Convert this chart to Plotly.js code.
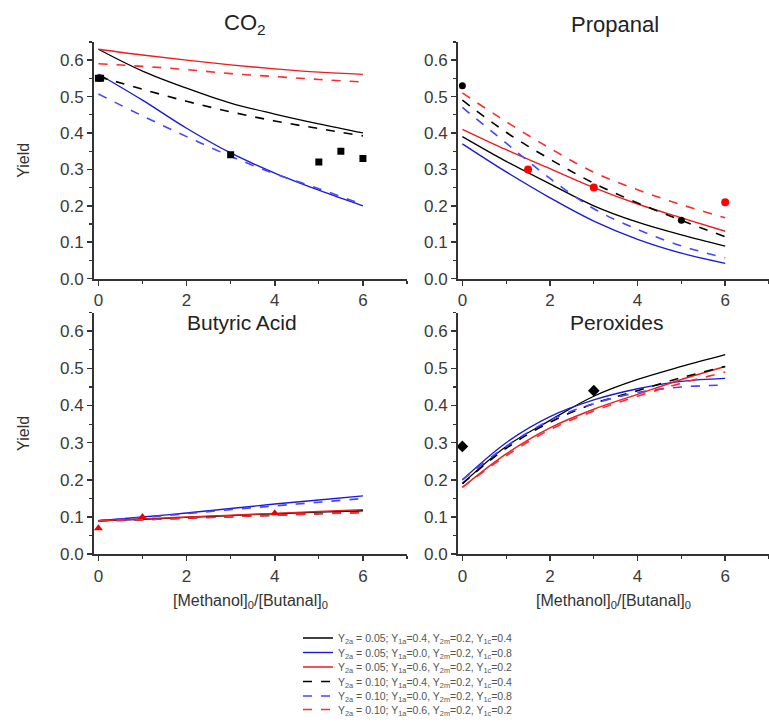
<!DOCTYPE html>
<html>
<head>
<meta charset="utf-8">
<script src="https://cdn.plot.ly/plotly-3.0.1.min.js"></script>
<style>html,body{margin:0;padding:0;background:#fff;}#chart{width:769px;height:724px;}</style>
</head>
<body>
<div id="chart"></div>
<script>
// ---------- data ----------
const xModel = [0, 1, 2, 3, 4, 5, 6];

const seriesNames = [
  'Y<sub>2a</sub> = 0.05; Y<sub>1a</sub>=0.4, Y<sub>2m</sub>=0.2, Y<sub>1c</sub>=0.4',
  'Y<sub>2a</sub> = 0.05; Y<sub>1a</sub>=0.0, Y<sub>2m</sub>=0.2, Y<sub>1c</sub>=0.8',
  'Y<sub>2a</sub> = 0.05; Y<sub>1a</sub>=0.6, Y<sub>2m</sub>=0.2, Y<sub>1c</sub>=0.2',
  'Y<sub>2a</sub> = 0.10; Y<sub>1a</sub>=0.4, Y<sub>2m</sub>=0.2, Y<sub>1c</sub>=0.4',
  'Y<sub>2a</sub> = 0.10; Y<sub>1a</sub>=0.0, Y<sub>2m</sub>=0.2, Y<sub>1c</sub>=0.8',
  'Y<sub>2a</sub> = 0.10; Y<sub>1a</sub>=0.6, Y<sub>2m</sub>=0.2, Y<sub>1c</sub>=0.2'
];

// CO2
const co2Black     = [0.630, 0.570, 0.523, 0.482, 0.452, 0.425, 0.400];
const co2Blue      = [0.562, 0.490, 0.413, 0.345, 0.290, 0.243, 0.200];
const co2Red       = [0.630, 0.614, 0.600, 0.587, 0.576, 0.567, 0.561];
const co2BlackDash = [0.555, 0.520, 0.487, 0.458, 0.433, 0.412, 0.392];
const co2BlueDash  = [0.507, 0.447, 0.390, 0.336, 0.288, 0.247, 0.203];
const co2RedDash   = [0.590, 0.583, 0.574, 0.563, 0.555, 0.547, 0.540];
const co2ExpX = [0, 0.05, 3, 5, 5.5, 6];
const co2ExpY = [0.55, 0.55, 0.34, 0.32, 0.35, 0.33];

// Propanal
const propBlack     = [0.390, 0.322, 0.260, 0.200, 0.155, 0.120, 0.089];
const propBlue      = [0.370, 0.293, 0.222, 0.158, 0.108, 0.070, 0.042];
const propRed       = [0.410, 0.354, 0.302, 0.250, 0.205, 0.167, 0.130];
const propBlackDash = [0.490, 0.402, 0.328, 0.262, 0.208, 0.160, 0.115];
const propBlueDash  = [0.470, 0.372, 0.275, 0.192, 0.135, 0.090, 0.057];
const propRedDash   = [0.510, 0.431, 0.358, 0.292, 0.244, 0.203, 0.167];
const propExpBlackX = [0, 5];
const propExpBlackY = [0.53, 0.16];
const propExpRedX = [1.5, 3, 6];
const propExpRedY = [0.30, 0.25, 0.21];

// Butyric acid
const butBlack     = [0.090, 0.094, 0.099, 0.104, 0.109, 0.113, 0.117];
const butBlue      = [0.090, 0.100, 0.111, 0.123, 0.135, 0.146, 0.157];
const butRed       = [0.090, 0.095, 0.100, 0.105, 0.110, 0.115, 0.120];
const butBlackDash = [0.090, 0.093, 0.097, 0.101, 0.105, 0.109, 0.113];
const butBlueDash  = [0.090, 0.099, 0.109, 0.120, 0.130, 0.140, 0.150];
const butRedDash   = [0.090, 0.093, 0.097, 0.101, 0.105, 0.109, 0.112];
const butExpX = [0, 1, 4];
const butExpY = [0.07, 0.10, 0.11];

// Peroxides
const perBlack     = [0.190, 0.290, 0.360, 0.425, 0.470, 0.505, 0.537];
const perBlue      = [0.200, 0.300, 0.370, 0.415, 0.445, 0.465, 0.473];
const perRed       = [0.180, 0.270, 0.340, 0.390, 0.430, 0.470, 0.505];
const perBlackDash = [0.190, 0.285, 0.355, 0.405, 0.440, 0.475, 0.505];
const perBlueDash  = [0.200, 0.290, 0.360, 0.405, 0.435, 0.450, 0.455];
const perRedDash   = [0.180, 0.265, 0.335, 0.385, 0.425, 0.460, 0.490];
const perExpX = [0, 3];
const perExpY = [0.29, 0.44];

const xTicks = [0, 2, 4, 6];
const yTicks = [0, 0.1, 0.2, 0.3, 0.4, 0.5, 0.6];

// ---------- styles ----------
const styles = [
  {color: '#000000', dash: 'solid', width: 1.3},
  {color: '#1a1adb', dash: 'solid', width: 1.4},
  {color: '#ee1c1c', dash: 'solid', width: 1.4},
  {color: '#000000', dash: 'dash',  width: 1.6},
  {color: '#4646ff', dash: 'dash',  width: 1.6},
  {color: '#ff2a2a', dash: 'dash',  width: 1.6}
];

const panels = [
  {xa: 'x',  ya: 'y',  series: [co2Black, co2Blue, co2Red, co2BlackDash, co2BlueDash, co2RedDash]},
  {xa: 'x2', ya: 'y2', series: [propBlack, propBlue, propRed, propBlackDash, propBlueDash, propRedDash]},
  {xa: 'x3', ya: 'y3', series: [butBlack, butBlue, butRed, butBlackDash, butBlueDash, butRedDash]},
  {xa: 'x4', ya: 'y4', series: [perBlack, perBlue, perRed, perBlackDash, perBlueDash, perRedDash]}
];

const legendIds = ['legend', 'legend2', 'legend3', 'legend4', 'legend5', 'legend6'];

const traces = [];
panels.forEach((p, pi) => {
  p.series.forEach((ys, si) => {
    traces.push({
      type: 'scatter', mode: 'lines', x: xModel, y: ys,
      xaxis: p.xa, yaxis: p.ya,
      name: seriesNames[si], legendgroup: 's' + si,
      legend: legendIds[si],
      showlegend: pi === 0,
      line: {color: styles[si].color, dash: styles[si].dash, width: styles[si].width, shape: 'spline', smoothing: 1},
      hoverinfo: 'skip'
    });
  });
});

function pts(x, y, xa, ya, symbol, color, size) {
  return {type: 'scatter', mode: 'markers', x: x, y: y, xaxis: xa, yaxis: ya,
    showlegend: false, marker: {symbol: symbol, color: color, size: size}};
}
traces.push(pts(co2ExpX, co2ExpY, 'x', 'y', 'square', '#000', 7));
traces.push(pts(propExpBlackX, propExpBlackY, 'x2', 'y2', 'circle', '#000', 7));
traces.push(pts(propExpRedX, propExpRedY, 'x2', 'y2', 'circle', '#ff0000', 8));
traces.push(pts(butExpX, butExpY, 'x3', 'y3', 'triangle-up', '#ee0000', 8));
traces.push(pts(perExpX, perExpY, 'x4', 'y4', 'diamond', '#000', 9));

// ---------- layout ----------
const W = 769, H = 724;
const fontFam = 'Liberation Sans, Arial, sans-serif';
const tickFont = {family: fontFam, size: 17, color: '#3a3a3a'};
const axTitleFont = {family: fontFam, size: 16, color: '#333'};

function xAxis(domain, anchor, withTitle) {
  const a = {
    domain: domain, anchor: anchor, range: [-0.1, 7],
    tickmode: 'array', tickvals: xTicks, ticktext: xTicks.map(String),
    ticks: 'outside', ticklen: 5, tickwidth: 1.5, tickcolor: '#333',
    minor: {dtick: 1, tick0: 0, ticks: 'outside', ticklen: 3, tickwidth: 1.2, tickcolor: '#333'},
    showline: true, linecolor: '#333', linewidth: 2,
    showgrid: false, zeroline: false, tickfont: tickFont, fixedrange: true
  };
  if (withTitle) {
    a.title = {text: '[Methanol]<sub>0</sub>/[Butanal]<sub>0</sub>', font: axTitleFont, standoff: 10};
  }
  return a;
}
function yAxis(domain, anchor, withTitle) {
  const a = {
    domain: domain, anchor: anchor, range: [0, 0.65],
    tickmode: 'array', tickvals: yTicks, ticktext: yTicks.map(v => v.toFixed(1)),
    ticks: 'outside', ticklen: 5, tickwidth: 1.5, tickcolor: '#333',
    minor: {dtick: 0.05, tick0: 0, ticks: 'outside', ticklen: 3, tickwidth: 1.2, tickcolor: '#333'},
    showline: true, linecolor: '#333', linewidth: 2,
    showgrid: false, zeroline: false, tickfont: tickFont, fixedrange: true
  };
  if (withTitle) {
    a.title = {text: 'Yield', font: axTitleFont, standoff: 26};
  }
  return a;
}

const xL = [94 / W, 407 / W], xR = [458 / W, 1.0];
const yT = [1 - 279 / H, 1 - 42 / H], yB = [1 - 555 / H, 1 - 313 / H];

const titleFont = {family: fontFam, size: 22, color: '#222'};
const titleFontB = {family: fontFam, size: 21, color: '#222'};
const layout = {
  width: W, height: H,
  margin: {l: 0, r: 0, t: 0, b: 0},
  paper_bgcolor: '#fff', plot_bgcolor: '#fff',
  font: {family: fontFam},
  xaxis: xAxis(xL, 'y', false),
  yaxis: yAxis(yT, 'x', true),
  xaxis2: xAxis(xR, 'y2', false),
  yaxis2: yAxis(yT, 'x2', false),
  xaxis3: xAxis(xL, 'y3', true),
  yaxis3: yAxis(yB, 'x3', true),
  xaxis4: xAxis(xR, 'y4', true),
  yaxis4: yAxis(yB, 'x4', false),
  annotations: [
    {text: 'CO<sub>2</sub>', x: 245 / W, y: 1 - 24 / H, xref: 'paper', yref: 'paper', xanchor: 'center', yanchor: 'middle', showarrow: false, font: titleFont},
    {text: 'Propanal', x: 615 / W, y: 1 - 25 / H, xref: 'paper', yref: 'paper', xanchor: 'center', yanchor: 'middle', showarrow: false, font: titleFont},
    {text: 'Butyric Acid', x: 242 / W, y: 1 - 323 / H, xref: 'paper', yref: 'paper', xanchor: 'center', yanchor: 'middle', showarrow: false, font: titleFontB},
    {text: 'Peroxides', x: 616 / W, y: 1 - 323 / H, xref: 'paper', yref: 'paper', xanchor: 'center', yanchor: 'middle', showarrow: false, font: titleFontB}
  ]
};
legendIds.forEach((id, i) => {
  layout[id] = {
    x: 298 / W, xanchor: 'left',
    y: 1 - (638 + i * 14.5) / H, yanchor: 'middle',
    bgcolor: 'rgba(0,0,0,0)', borderwidth: 0,
    font: {family: fontFam, size: 10.5, color: '#555'},
    itemwidth: 30, tracegroupgap: 0
  };
});

Plotly.newPlot('chart', traces, layout, {displayModeBar: false, staticPlot: true});
</script>
</body>
</html>
